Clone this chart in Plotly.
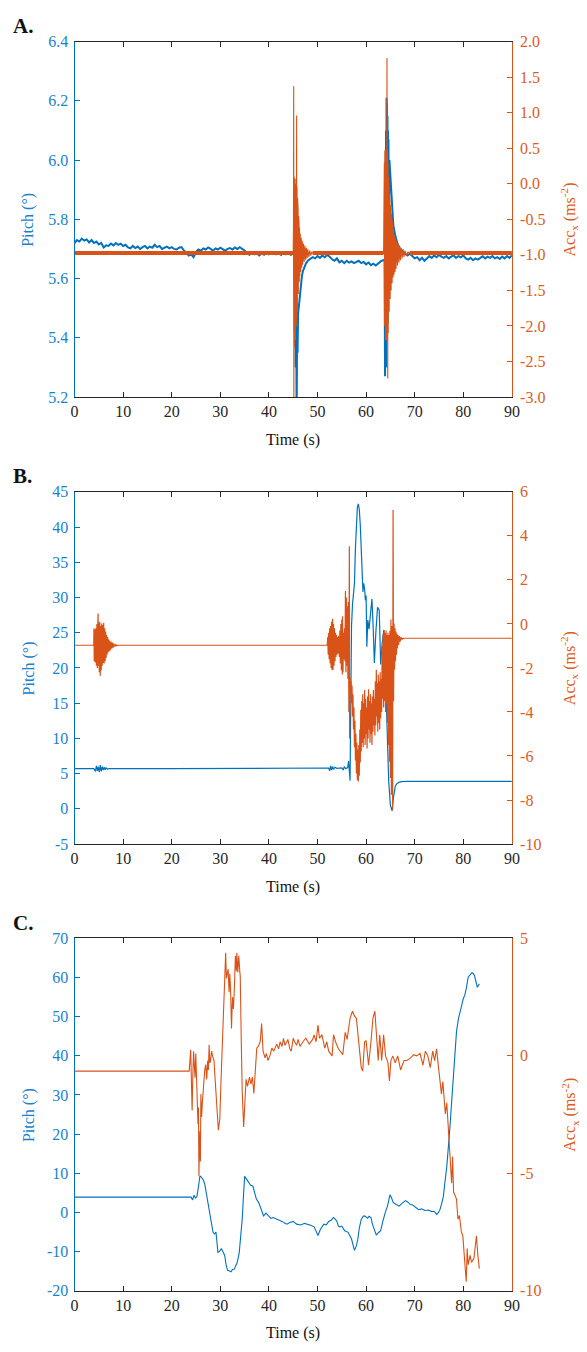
import plotly.graph_objects as go

# ---------------- Panel A: pitch (deg) and Acc_x (m s^-2) vs time (s) ----------------
A_PITCH = [
    (0, 5.72), (0.5, 5.73), (1, 5.725), (1.5, 5.735), (2, 5.728), (2.5, 5.732), (3, 5.722), (3.5, 5.73),
    (4, 5.72), (4.5, 5.725), (5, 5.715), (5.5, 5.72), (6, 5.705), (6.5, 5.712), (7, 5.71), (7.5, 5.718),
    (8, 5.712), (8.5, 5.72), (9, 5.714), (9.5, 5.718), (10, 5.71), (10.5, 5.714), (11, 5.705), (11.5, 5.702),
    (12, 5.71), (12.5, 5.703), (13, 5.708), (13.5, 5.7), (14, 5.706), (14.5, 5.71), (15, 5.702), (15.5, 5.708),
    (16, 5.704), (16.5, 5.714), (17, 5.706), (17.5, 5.71), (18, 5.7), (18.5, 5.705), (19, 5.708), (19.5, 5.702),
    (20, 5.706), (20.5, 5.7), (21, 5.698), (21.5, 5.704), (22, 5.706), (22.5, 5.695), (23, 5.685), (23.5, 5.678),
    (24, 5.682), (24.5, 5.672), (25, 5.69), (25.5, 5.698), (26, 5.694), (26.5, 5.702), (27, 5.698), (27.5, 5.705),
    (28, 5.7), (28.5, 5.694), (29, 5.702), (29.5, 5.698), (30, 5.704), (30.5, 5.698), (31, 5.694), (31.5, 5.7),
    (32, 5.703), (32.5, 5.698), (33, 5.705), (33.5, 5.7), (34, 5.706), (34.5, 5.7), (35, 5.695), (35.5, 5.685),
    (36, 5.68), (36.5, 5.688), (37, 5.682), (37.5, 5.686), (38, 5.678), (38.5, 5.685), (39, 5.68), (39.5, 5.688),
    (40, 5.682), (40.5, 5.686), (41, 5.69), (41.5, 5.682), (42, 5.686), (42.5, 5.68), (43, 5.688), (43.5, 5.682),
    (44, 5.686), (44.5, 5.68), (45, 5.684),
    (45.2, 5.68), (45.3, 5.42), (45.4, 5.66), (45.5, 5.3), (45.6, 5.6), (45.7, 5.1), (45.8, 5.45), (45.9, 5.35),
    (46.0, 5.48), (46.2, 5.52), (46.4, 5.56), (46.6, 5.59), (46.8, 5.61), (47, 5.625), (47.3, 5.64), (47.6, 5.65),
    (48, 5.66), (48.5, 5.665), (49, 5.672), (49.5, 5.668), (50, 5.676), (50.5, 5.67), (51, 5.678), (51.5, 5.672),
    (52, 5.68), (52.5, 5.674), (53, 5.665), (53.5, 5.66), (54, 5.668), (54.5, 5.655), (55, 5.66), (55.5, 5.652),
    (56, 5.66), (56.5, 5.654), (57, 5.658), (57.5, 5.652), (58, 5.656), (58.5, 5.66), (59, 5.652), (59.5, 5.656),
    (60, 5.648), (60.5, 5.654), (61, 5.645), (61.5, 5.65), (62, 5.644), (62.5, 5.652), (63, 5.658), (63.5, 5.662),
    (63.8, 5.66), (63.9, 5.27), (64.0, 6.0), (64.05, 5.35), (64.1, 6.1), (64.15, 5.3), (64.2, 6.21), (64.25, 5.45),
    (64.3, 6.18), (64.35, 5.5), (64.4, 6.15), (64.45, 5.45), (64.5, 6.1), (64.55, 5.6), (64.6, 6.07), (64.7, 5.75),
    (64.8, 6.0), (65.0, 5.95), (65.3, 5.84), (65.6, 5.78), (66.0, 5.745), (66.5, 5.715), (67, 5.7), (67.5, 5.69),
    (68, 5.684), (68.5, 5.678), (69, 5.684), (69.5, 5.676), (70, 5.668), (70.5, 5.672), (71, 5.662), (71.5, 5.67),
    (72, 5.66), (72.5, 5.668), (73, 5.676), (73.5, 5.67), (74, 5.678), (74.5, 5.672), (75, 5.68), (75.5, 5.674),
    (76, 5.67), (76.5, 5.676), (77, 5.668), (77.5, 5.674), (78, 5.678), (78.5, 5.67), (79, 5.676), (79.5, 5.672),
    (80, 5.678), (80.5, 5.668), (81, 5.664), (81.5, 5.67), (82, 5.662), (82.5, 5.668), (83, 5.664), (83.5, 5.67),
    (84, 5.675), (84.5, 5.668), (85, 5.674), (85.5, 5.67), (86, 5.676), (86.5, 5.668), (87, 5.672), (87.5, 5.666),
    (88, 5.674), (88.5, 5.668), (89, 5.676), (89.5, 5.67), (90, 5.678),
]

A_ACC = [
    (0, -0.975), (10, -0.975), (20, -0.975), (30, -0.975), (40, -0.975), (45.0, -0.975),
    (45.05, -0.6), (45.1, 1.37), (45.13, -3.2), (45.2, 0.1), (45.25, -2.3), (45.3, 0.05), (45.35, -2.1),
    (45.4, 0.07), (45.45, -2.2), (45.5, -0.1), (45.55, -2.0), (45.6, 0.0), (45.65, -1.9), (45.7, 0.96),
    (45.73, -2.0), (45.8, -0.05), (45.85, -1.8), (45.9, -0.2), (45.95, -1.7), (46.0, -0.35), (46.05, -1.55),
    (46.1, -0.45), (46.15, -1.45), (46.2, -0.55), (46.25, -1.38), (46.3, -0.62), (46.35, -1.3), (46.45, -0.7),
    (46.55, -1.24), (46.65, -0.76), (46.75, -1.18), (46.85, -0.8), (46.95, -1.14), (47.1, -0.84), (47.25, -1.1),
    (47.4, -0.87), (47.55, -1.07), (47.7, -0.9), (47.85, -1.05), (48.0, -0.92), (48.2, -1.03), (48.4, -0.94),
    (48.6, -1.01), (48.8, -0.96), (49.0, -0.975), (55, -0.975), (63.6, -0.975),
    (63.65, -0.5), (63.7, -1.6), (63.75, 0.3), (63.8, -2.0), (63.85, 0.45), (63.9, -2.1), (63.95, 0.48),
    (64.0, -2.2), (64.05, 0.45), (64.1, -2.0), (64.15, 0.48), (64.2, -2.2), (64.25, 0.4), (64.3, 1.77),
    (64.33, -2.1), (64.4, 0.45), (64.45, -2.74), (64.5, 0.3), (64.55, -2.1), (64.6, 0.1), (64.65, -1.95),
    (64.7, -0.05), (64.75, -1.8), (64.8, -0.15), (64.85, -1.7), (64.9, -0.25), (64.95, -1.62), (65.0, -0.3),
    (65.05, -1.56), (65.1, -0.36), (65.15, -1.5), (65.2, -0.42), (65.25, -1.45), (65.3, -0.48), (65.35, -1.4),
    (65.4, -0.54), (65.45, -1.36), (65.5, -0.6), (65.55, -1.32), (65.65, -0.66), (65.75, -1.28), (65.85, -0.72),
    (65.95, -1.24), (66.05, -0.76), (66.15, -1.2), (66.3, -0.8), (66.45, -1.15), (66.6, -0.84), (66.75, -1.11),
    (66.9, -0.87), (67.05, -1.08), (67.2, -0.9), (67.4, -1.05), (67.6, -0.92), (67.8, -1.03), (68.0, -0.94),
    (68.3, -1.01), (68.6, -0.96), (69.0, -0.975), (80, -0.975), (90, -0.975),
]
# time windows of the two impacts in panel A (the quiet parts of Acc_x show a thick noise band)
A_BURSTS = [(45.0, 49.0), (63.6, 69.0)]

# ---------------- Panel B ----------------
B_PITCH = [
    (0, 5.7), (4.0, 5.7), (4.3, 5.3), (4.5, 6.1), (4.7, 5.4), (4.9, 6.0), (5.1, 5.2), (5.3, 6.2), (5.5, 5.3),
    (5.7, 6.0), (5.9, 5.5), (6.1, 5.9), (6.3, 5.55), (6.5, 5.8), (6.8, 5.65), (7.2, 5.7), (20, 5.7), (40, 5.75),
    (52.3, 5.8), (52.5, 5.4), (52.7, 6.1), (52.9, 5.5), (53.1, 6.0), (53.3, 5.6), (53.6, 5.9), (54, 5.75),
    (55, 5.8), (55.3, 5.5), (55.5, 6.0), (55.8, 5.7), (56.2, 5.85), (56.4, 6.8), (56.55, 4.3), (56.7, 4.0),
    (56.8, 12), (56.9, 22), (57.0, 26), (57.2, 29), (57.4, 30.5), (57.6, 32), (57.8, 37), (58.0, 41),
    (58.2, 42.8), (58.4, 43.3), (58.6, 42.5), (58.8, 40.3), (59.0, 35.6), (59.2, 31.9), (59.35, 30.8),
    (59.5, 32.0), (59.7, 31.2), (59.85, 29.6), (60.0, 30.3), (60.15, 23.0), (60.35, 26.8), (60.6, 25.5),
    (60.9, 27.5), (61.2, 29.8), (61.45, 25.8), (61.7, 20.7), (62.0, 25.0), (62.35, 28.6), (62.7, 28.2),
    (63.0, 20.5), (63.3, 23.5), (63.65, 25.4), (64.0, 18.8), (64.3, 11.3), (64.65, 3.9), (65.0, 0.5),
    (65.35, -0.3), (65.6, 1.5), (65.8, 2.6), (66.0, 3.2), (66.3, 3.55), (66.7, 3.75), (67.3, 3.85),
    (68.5, 3.9), (90, 3.9),
]

B_ACC = [
    (0, -0.97), (3.95, -0.97), (4.0, -0.2), (4.05, -1.7), (4.1, -0.3), (4.15, -1.6), (4.2, -0.25), (4.3, -1.75),
    (4.4, -0.2), (4.5, -1.9), (4.6, 0.0), (4.7, -2.0), (4.8, 0.1), (4.85, 0.47), (4.9, -1.9), (5.0, 0.05),
    (5.1, -2.2), (5.2, 0.1), (5.3, -2.35), (5.4, -0.1), (5.5, -2.1), (5.6, 0.02), (5.7, -1.9), (5.8, -0.05),
    (5.9, -1.77), (6.0, 0.05), (6.1, -1.8), (6.2, -0.2), (6.3, -1.7), (6.4, -0.35), (6.5, -1.55), (6.6, -0.5),
    (6.7, -1.4), (6.8, -0.6), (6.9, -1.3), (7.0, -0.7), (7.1, -1.25), (7.2, -0.75), (7.35, -1.2), (7.5, -0.8),
    (7.65, -1.12), (7.8, -0.85), (7.95, -1.08), (8.1, -0.9), (8.3, -1.03), (8.5, -0.94), (8.7, -0.99),
    (9.0, -0.97), (30, -0.97), (52.0, -0.97),
    (52.1, -0.6), (52.2, -1.4), (52.3, -0.4), (52.4, -1.6), (52.5, -0.2), (52.6, -1.8), (52.7, -0.1),
    (52.8, -2.0), (52.9, 0.1), (53.0, -2.1), (53.1, 0.24), (53.2, -2.08), (53.3, 0.0), (53.4, -1.9),
    (53.5, -0.2), (53.6, -1.7), (53.7, -0.4), (53.8, -1.5), (53.9, -0.5), (54.0, -1.4), (54.1, -0.6),
    (54.2, -1.35), (54.35, -0.55), (54.5, -1.5), (54.6, -0.3), (54.7, -1.8), (54.8, 0.0), (54.9, -2.1),
    (55.0, 0.2), (55.1, -2.3), (55.15, 0.35), (55.25, -2.2), (55.35, -0.4), (55.45, -1.6), (55.55, -0.2),
    (55.65, -1.7), (55.75, 1.5), (55.85, -2.2), (55.95, 1.2), (56.05, -1.9), (56.15, 0.8), (56.25, -2.5),
    (56.35, 1.0), (56.45, -4.0), (56.55, 3.53), (56.6, -5.2), (56.7, -2.4), (56.8, -3.0), (56.9, -2.6),
    (57.0, -3.6), (57.1, -2.8), (57.2, -4.2), (57.3, -3.2), (57.4, -4.8), (57.5, -3.8), (57.6, -5.6),
    (57.7, -4.4), (57.8, -6.2), (57.9, -5.0), (58.0, -6.8), (58.1, -5.4), (58.2, -7.1), (58.3, -5.7),
    (58.4, -7.16), (58.5, -5.5), (58.6, -6.9), (58.7, -4.8), (58.8, -6.3), (58.9, -3.9), (59.0, -5.8),
    (59.1, -3.5), (59.2, -5.4), (59.3, -3.2), (59.4, -5.6), (59.5, -3.6), (59.6, -5.2), (59.7, -3.0),
    (59.8, -5.5), (59.9, -3.4), (60.0, -5.0), (60.1, -3.8), (60.2, -5.66), (60.3, -3.3), (60.4, -5.2),
    (60.5, -2.97), (60.6, -4.8), (60.7, -3.5), (60.8, -5.4), (60.9, -3.2), (61.0, -5.0), (61.1, -3.6),
    (61.2, -5.5), (61.3, -3.3), (61.4, -4.9), (61.5, -3.0), (61.6, -4.6), (61.7, -3.4), (61.8, -5.07),
    (61.9, -2.6), (62.0, -4.6), (62.1, -2.08), (62.2, -4.2), (62.3, -2.7), (62.4, -4.9), (62.5, -2.3),
    (62.6, -4.5), (62.7, -2.6), (62.8, -4.8), (62.9, -2.2), (63.0, -4.3), (63.1, -2.5), (63.2, -4.0),
    (63.3, -1.0), (63.4, -3.4), (63.5, -0.5), (63.6, -3.8), (63.7, -0.28), (63.8, -3.5), (63.9, -0.4),
    (64.0, -4.0), (64.1, -0.3), (64.2, -3.6), (64.3, -0.5), (64.4, -4.5), (64.5, -0.4), (64.6, -5.5),
    (64.7, -0.5), (64.8, -6.26), (64.9, -0.3), (65.0, -7.0), (65.1, 0.2), (65.2, -7.76), (65.3, -0.1),
    (65.45, -8.43), (65.55, 5.18), (65.65, -3.5), (65.75, 0.02), (65.85, -2.08), (65.95, -0.2), (66.05, -1.7),
    (66.15, -0.35), (66.25, -1.4), (66.35, -0.45), (66.45, -1.1), (66.55, -0.5), (66.7, -0.95), (66.85, -0.55),
    (67.0, -0.8), (67.2, -0.6), (67.4, -0.7), (67.7, -0.65), (80, -0.65), (90, -0.65),
]

# ---------------- Panel C ----------------
C_PITCH = [
    (0, 3.9), (24.0, 3.9), (24.3, 3.2), (24.6, 4.4), (24.9, 3.6), (25.2, 4.2), (25.5, 6.5), (25.8, 9.3),
    (26.1, 9.0), (26.5, 8.3), (26.8, 7.2), (27.1, 5.0), (27.5, 2.0), (27.9, -0.9), (28.2, -3.5), (28.5, -5.1),
    (28.8, -5.5), (29.1, -5.0), (29.3, -7.5), (29.5, -10.2), (29.8, -10.0), (30.2, -9.3), (30.6, -10.2),
    (30.9, -11.0), (31.2, -13.5), (31.5, -14.8), (31.9, -15.0), (32.2, -15.2), (32.5, -14.6), (32.9, -14.5),
    (33.2, -13.5), (33.4, -13.1), (33.7, -11.5), (33.9, -10.2), (34.2, -6.0), (34.5, -1.8), (34.8, 5.0),
    (35.0, 9.2), (35.3, 8.7), (35.7, 7.9), (36.2, 7.0), (36.7, 6.7), (37.0, 5.5), (37.4, 3.5), (37.9, 2.5),
    (38.4, 0.5), (38.9, -0.9), (39.4, -0.2), (39.9, -1.0), (40.4, -1.5), (40.9, -1.3), (41.5, -1.6),
    (42.1, -2.0), (42.7, -2.3), (43.2, -2.7), (43.7, -3.0), (44.3, -2.6), (45.0, -2.3), (45.7, -3.0),
    (46.6, -3.2), (47.3, -2.8), (47.9, -3.0), (48.6, -3.3), (49.3, -3.7), (49.7, -4.8), (50.1, -5.9),
    (50.6, -4.3), (51.3, -3.0), (51.8, -3.2), (52.3, -2.3), (52.8, -2.0), (53.3, -1.3), (53.7, -1.8),
    (54.0, -2.3), (54.3, -3.5), (54.6, -3.7), (55.0, -3.5), (55.6, -4.7), (56.3, -5.1), (57.0, -6.8),
    (57.6, -9.7), (58.0, -8.5), (58.3, -6.8), (58.6, -4.0), (59.0, -1.8), (59.4, -1.0), (59.7, -0.9),
    (60.0, -1.3), (60.3, -1.5), (60.6, -1.0), (61.0, -1.3), (61.3, -3.0), (61.7, -4.7), (62.1, -5.8),
    (62.5, -5.2), (63.0, -4.7), (63.4, -2.5), (63.7, -0.9), (64.0, 0.2), (64.4, 1.6), (64.9, 4.5),
    (65.2, 3.8), (65.6, 2.5), (66.2, 2.0), (66.8, 1.6), (67.4, 2.3), (68.1, 3.0), (68.6, 2.6), (69.1, 2.0),
    (69.6, 1.9), (70.1, 1.4), (70.8, 0.7), (71.4, 0.9), (72.1, 0.5), (72.8, 0.6), (73.5, 0.2), (74.0, 0.3),
    (74.5, -0.5), (74.9, 0.0), (75.2, 0.7), (75.6, 2.5), (75.9, 4.1), (76.2, 7.5), (76.6, 11.7), (77.2, 21.0),
    (77.9, 32.7), (78.3, 40.0), (78.6, 46.2), (79.0, 49.5), (79.3, 51.2), (79.7, 53.5), (80.0, 54.6),
    (80.3, 55.5), (80.6, 57.1), (81.0, 60.1), (81.4, 60.8), (81.8, 61.3), (82.1, 61.0), (82.3, 60.5),
    (82.6, 59.0), (82.9, 57.5), (83.1, 58.0), (83.3, 58.4),
]

C_ACC = [
    (0, -0.65), (23.6, -0.65), (23.9, 0.26), (24.05, -1.0), (24.2, -2.33), (24.35, -0.8), (24.5, 0.2),
    (24.65, -0.4), (24.8, -0.93), (24.95, 0.1), (25.1, -0.65), (25.25, -1.6), (25.4, -2.9), (25.5, -2.2),
    (25.6, -5.13), (25.7, -3.8), (25.8, -3.2), (25.9, -4.5), (26.0, -1.63), (26.15, -2.6), (26.3, -2.0),
    (26.45, -1.4), (26.6, -1.2), (26.8, -0.6), (27.0, -0.37), (27.2, -1.0), (27.4, -0.2), (27.55, -0.6),
    (27.7, 0.47), (27.85, -0.3), (28.0, -0.2), (28.2, 0.2), (28.4, 0.0), (28.7, -0.2), (28.9, -0.9),
    (29.1, -1.49), (29.25, -2.1), (29.4, -2.6), (29.6, -3.17), (29.75, -2.9), (29.9, -2.7), (30.05, -1.6),
    (30.2, -0.65), (30.4, 0.75), (30.55, 1.3), (30.7, 1.87), (30.9, 3.2), (31.1, 4.39), (31.25, 3.3),
    (31.4, 3.55), (31.6, 3.7), (31.8, 2.71), (31.95, 3.5), (32.1, 2.9), (32.3, 1.17), (32.5, 2.5),
    (32.7, 2.0), (32.9, 2.9), (33.1, 4.26), (33.3, 3.6), (33.4, 4.39), (33.6, 3.55), (33.8, 4.26),
    (34.0, 3.6), (34.1, 3.4), (34.3, 0.75), (34.5, -1.49), (34.8, -3.03), (35.1, -1.3), (35.3, -1.0),
    (35.6, -1.3), (36.0, -0.9), (36.3, -1.2), (36.6, -0.9), (36.9, -1.6), (37.2, -0.5), (37.5, 0.33),
    (37.8, 0.4), (38.2, 0.6), (38.5, 1.38), (38.8, 0.2), (39.2, -0.08), (39.5, 0.1), (39.8, -0.2),
    (40.2, 0.0), (40.6, 0.33), (41.0, 0.2), (41.6, 0.5), (42.0, 0.3), (42.3, 0.6), (42.7, 0.4), (43.0, 0.75),
    (43.3, 0.45), (43.9, 0.7), (44.3, 0.3), (44.6, 0.2), (45.0, 0.75), (45.3, 0.6), (45.7, 0.45), (46.0, 0.7),
    (46.4, 0.4), (47.0, 0.6), (47.6, 0.75), (48.3, 0.5), (49.0, 0.7), (49.3, 0.89), (49.7, 0.6), (50.1, 1.31),
    (50.4, 0.75), (50.9, 0.9), (51.5, 0.33), (51.9, 0.6), (52.3, 0.2), (53.0, 0.0), (53.3, 0.9), (53.7, 0.6),
    (54.3, 0.3), (55.2, 0.05), (55.7, 1.0), (56.1, 0.7), (56.7, 1.6), (57.2, 1.9), (57.6, 1.7), (58.0, 1.6),
    (58.3, 1.0), (59.0, -0.5), (59.3, -0.65), (59.7, 0.6), (60.0, 0.65), (60.5, -0.4), (61.0, 0.6),
    (61.4, 1.6), (61.8, 1.9), (62.1, 0.75), (62.5, -0.2), (62.8, 0.9), (63.2, -0.2), (63.6, 0.9), (64.0, 0.0),
    (64.5, -0.3), (64.8, -1.07), (65.1, -0.2), (65.5, 0.0), (66.0, -0.3), (66.5, 0.0), (67.1, -0.6),
    (67.8, -0.2), (68.4, -0.2), (69.1, -0.1), (69.8, 0.05), (70.4, 0.0), (71.1, 0.1), (71.7, -0.4),
    (72.2, 0.2), (72.7, 0.0), (73.2, -0.5), (73.7, 0.2), (74.1, -0.2), (74.5, 0.3), (74.9, -0.5),
    (75.2, -1.2), (75.5, -1.63), (75.8, -1.1), (76.3, -2.47), (76.6, -2.0), (77.0, -3.45), (77.3, -4.4),
    (77.6, -5.42), (77.8, -4.3), (78.0, -5.8), (78.6, -6.1), (78.9, -6.96), (79.2, -6.8), (79.6, -7.5),
    (79.9, -7.66), (80.3, -9.06), (80.6, -9.62), (80.8, -8.2), (81.0, -8.9), (81.4, -8.5), (81.7, -8.8),
    (82.2, -8.6), (82.7, -7.66), (83.0, -8.5), (83.3, -9.06),
]

# ---------------- axis ranges and tick labels ----------------
X_TICKS = [0, 10, 20, 30, 40, 50, 60, 70, 80, 90]
A_LEFT_TICKS = [5.2, 5.4, 5.6, 5.8, 6.0, 6.2, 6.4]
A_RIGHT_TICKS = [-3.0, -2.5, -2.0, -1.5, -1.0, -0.5, 0.0, 0.5, 1.0, 1.5, 2.0]
B_LEFT_TICKS = [-5, 0, 5, 10, 15, 20, 25, 30, 35, 40, 45]
B_RIGHT_TICKS = [-10, -8, -6, -4, -2, 0, 2, 4, 6]
C_LEFT_TICKS = [-20, -10, 0, 10, 20, 30, 40, 50, 60, 70]
C_RIGHT_TICKS = [-10, -5, 0, 5]

BLUE = "#0072BD"
BLUE_TXT = "#1a82cc"
ORANGE = "#D95319"
ORANGE_TXT = "#dc5c22"
DARK = "#262626"
FONT = "Liberation Serif"

W, H = 587, 1352
X_DOM = [72 / W, 518.5 / W]
PANELS = {  # pixel top / bottom of each plot box
    "A": (34, 394),
    "B": (490, 846.7),
    "C": (942.3, 1299),
}


def ydom(top, bottom):
    return [1 - bottom / H, 1 - top / H]


def unzip(pairs):
    return [p[0] for p in pairs], [p[1] for p in pairs]


def fmt(v, dec):
    return f"{v:.{dec}f}"


fig = go.Figure()

# ---- traces ----
ta, pa = unzip(A_PITCH)
fig.add_trace(go.Scatter(x=ta, y=pa, mode="lines", line=dict(color=BLUE, width=2), xaxis="x", yaxis="y"))
tq, qa = unzip(A_ACC)
fig.add_trace(go.Scatter(x=tq, y=qa, mode="lines", line=dict(color=ORANGE, width=1.1), xaxis="x", yaxis="y2"))
# quiet stretches of Acc_x: dense sensor noise drawn as a thicker band
quiet = [None if any(lo < t < hi for lo, hi in A_BURSTS) else v for t, v in A_ACC]
fig.add_trace(go.Scatter(x=tq, y=quiet, mode="lines", line=dict(color=ORANGE, width=4),
                         connectgaps=False, xaxis="x", yaxis="y2"))

tb, pb = unzip(B_PITCH)
fig.add_trace(go.Scatter(x=tb, y=pb, mode="lines", line=dict(color=BLUE, width=1.2), xaxis="x2", yaxis="y3"))
tbq, qb = unzip(B_ACC)
fig.add_trace(go.Scatter(x=tbq, y=qb, mode="lines", line=dict(color=ORANGE, width=1.2), xaxis="x2", yaxis="y4"))

tc, pc = unzip(C_PITCH)
fig.add_trace(go.Scatter(x=tc, y=pc, mode="lines", line=dict(color=BLUE, width=1.1), xaxis="x3", yaxis="y5"))
tcq, qc = unzip(C_ACC)
fig.add_trace(go.Scatter(x=tcq, y=qc, mode="lines", line=dict(color=ORANGE, width=1.1), xaxis="x3", yaxis="y6"))

tick_font = dict(family=FONT, size=16)


def xaxis_cfg(anchor):
    return dict(
        domain=X_DOM, anchor=anchor, range=[0, 90], tickvals=X_TICKS, ticktext=[str(v) for v in X_TICKS],
        ticks="inside", ticklen=5, tickwidth=1, tickcolor=DARK, showline=True, linecolor=DARK, linewidth=1,
        mirror="ticks", showgrid=False, zeroline=False, tickfont=dict(tick_font, color=DARK),
    )


def yaxis_cfg(dom, anchor, rng, ticks, dec, color, txt_color, side="left", overlaying=None):
    d = dict(
        domain=dom, anchor=anchor, range=rng, tickvals=ticks, ticktext=[fmt(v, dec) for v in ticks],
        ticks="inside", ticklen=5, tickwidth=1, tickcolor=color, showline=True, linecolor=color, linewidth=1,
        showgrid=False, zeroline=False, side=side, tickfont=dict(tick_font, color=txt_color),
        ticklabelstandoff=2 if side == "left" else 4,
    )
    if overlaying:
        d["overlaying"] = overlaying
    return d


fig.update_layout(
    width=W, height=H, margin=dict(l=0, r=0, t=0, b=0), showlegend=False,
    paper_bgcolor="white", plot_bgcolor="white", font=dict(family=FONT, color=DARK, size=16),
)
fig.update_layout(
    xaxis=xaxis_cfg("y"),
    yaxis=yaxis_cfg(ydom(*PANELS["A"]), "x", [5.2, 6.4], A_LEFT_TICKS, 1, BLUE, BLUE_TXT),
    yaxis2=yaxis_cfg(ydom(*PANELS["A"]), "x", [-3, 2], A_RIGHT_TICKS, 1, ORANGE, ORANGE_TXT, "right", "y"),
    xaxis2=xaxis_cfg("y3"),
    yaxis3=yaxis_cfg(ydom(*PANELS["B"]), "x2", [-5, 45], B_LEFT_TICKS, 0, BLUE, BLUE_TXT),
    yaxis4=yaxis_cfg(ydom(*PANELS["B"]), "x2", [-10, 6], B_RIGHT_TICKS, 0, ORANGE, ORANGE_TXT, "right", "y3"),
    xaxis3=xaxis_cfg("y5"),
    yaxis5=yaxis_cfg(ydom(*PANELS["C"]), "x3", [-20, 70], C_LEFT_TICKS, 0, BLUE, BLUE_TXT),
    yaxis6=yaxis_cfg(ydom(*PANELS["C"]), "x3", [-10, 5], C_RIGHT_TICKS, 0, ORANGE, ORANGE_TXT, "right", "y5"),
)

# ---- panel letters and axis titles ----
annotations = []
for letter, (top, bottom) in PANELS.items():
    mid = (top + bottom) / 2
    annotations.append(dict(text=f"<b>{letter}.</b>", x=7 / W, y=1 - (top - 16) / H, xref="paper", yref="paper",
                            xanchor="left", yanchor="middle", showarrow=False,
                            font=dict(family=FONT, size=21, color="#111111")))
    annotations.append(dict(text="Time (s)", x=295.5 / W, y=1 - (bottom + 43) / H, xref="paper", yref="paper",
                            xanchor="center", yanchor="middle", showarrow=False,
                            font=dict(family=FONT, size=16, color="#111111")))
    annotations.append(dict(text="Pitch (°)", x=25 / W, y=1 - mid / H, xref="paper", yref="paper",
                            xanchor="center", yanchor="middle", textangle=-90, showarrow=False,
                            font=dict(family=FONT, size=16, color=BLUE_TXT)))
    annotations.append(dict(text="Acc<sub>x</sub> (ms<sup>-2</sup>)", x=577 / W, y=1 - mid / H, xref="paper",
                            yref="paper", xanchor="center", yanchor="middle", textangle=-90, showarrow=False,
                            font=dict(family=FONT, size=16, color=ORANGE_TXT)))
fig.update_layout(annotations=annotations)

fig.write_html("out.html")
